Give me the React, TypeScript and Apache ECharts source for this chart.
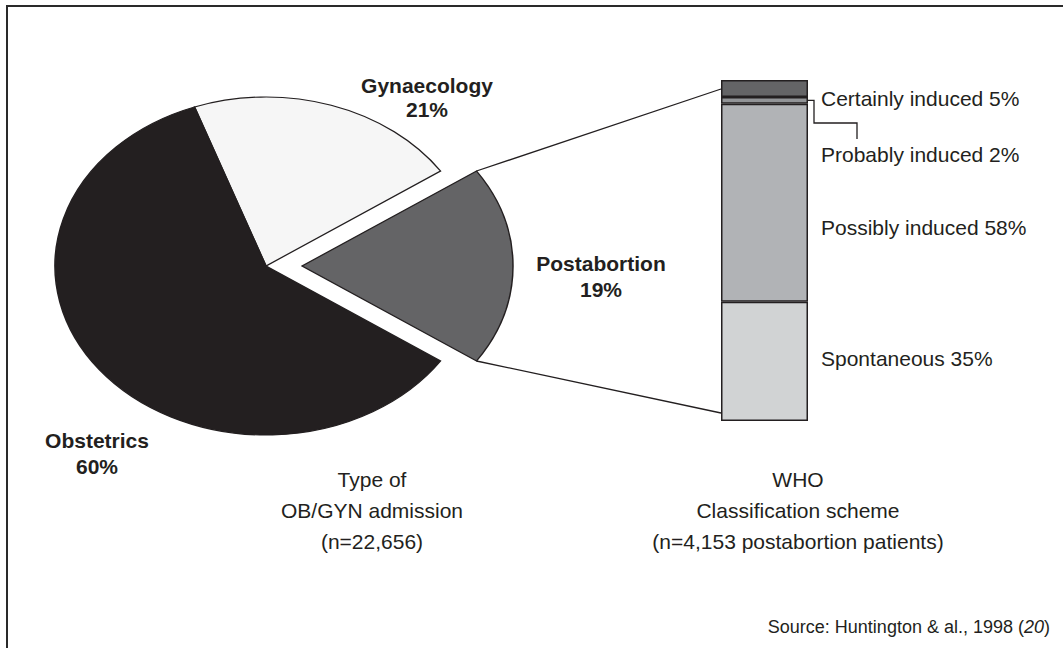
import React, { useEffect, useRef } from "react";
import * as echarts from "echarts";

// ---- data ----
const admissionTypes = ["Gynaecology", "Obstetrics", "Postabortion"];
const admissionShares = [21, 60, 19];
const admissionColors = ["#f6f6f6", "#231f20", "#646466"];

const whoClasses = ["Certainly induced", "Probably induced", "Possibly induced", "Spontaneous"];
const whoShares = [5, 2, 58, 35];
const whoColors = ["#646466", "#929497", "#b1b3b6", "#d1d3d4"];

const FONT = "'Liberation Sans', Arial, Helvetica, sans-serif";
const INK = "#231f20";

// layout
const PIE_CX = 266;
const PIE_CY = 266;
const PIE_RX = 211;
const PIE_RY = 169;
const EXPLODE = 36;
const BAR_LEFT = 721;
const BAR_TOP = 80;
const BAR_W = 87;
const BAR_H = 341;

export default function App() {
  const ref = useRef<HTMLDivElement>(null);

  useEffect(() => {
    document.body.style.margin = "0";
    const chart = echarts.init(ref.current!, null, { renderer: "svg" });

    const total = admissionShares.reduce((a, b) => a + b, 0);
    const postIdx = admissionTypes.indexOf("Postabortion");
    // postabortion slice is centred on the horizontal axis (right side)
    const startDeg = -(admissionShares[postIdx] / total) * 180;
    const toRad = (d: number) => (d * Math.PI) / 180;

    const slices: { s: number; e: number }[] = [];
    let cur = startDeg;
    admissionShares.forEach((v) => {
      const span = (v / total) * 360;
      slices.push({ s: cur - span, e: cur });
      cur -= span;
    });

    const halfPost = toRad((admissionShares[postIdx] / total) * 180);
    const edgeX = PIE_CX + EXPLODE + PIE_RX * Math.cos(halfPost);
    const edgeDy = PIE_RY * Math.sin(halfPost);

    const whoTotal = whoShares.reduce((a, b) => a + b, 0);
    const probMid =
      BAR_TOP + (BAR_H * (whoShares[0] + whoShares[1] / 2)) / whoTotal;

    const txt = (
      text: string,
      x: number,
      y: number,
      opts: any = {}
    ) => ({
      type: "text",
      x,
      y,
      style: {
        text,
        fill: INK,
        font: `${opts.bold ? "bold " : ""}${opts.size || 21}px ${FONT}`,
        textAlign: opts.align || "center",
        textVerticalAlign: "middle",
      },
    });

    const stackOrder = [3, 2, 1, 0];

    chart.setOption({
      animation: false,
      grid: { left: BAR_LEFT, top: BAR_TOP, width: BAR_W, height: BAR_H },
      xAxis: { type: "category", data: ["WHO"], show: false },
      yAxis: { type: "value", min: 0, max: whoTotal, show: false },
      series: [
        {
          type: "custom",
          coordinateSystem: "none",
          silent: true,
          data: admissionShares,
          renderItem: (params: any) => {
            const i = params.dataIndex;
            return {
              type: "sector",
              x: PIE_CX + (i === postIdx ? EXPLODE : 0),
              y: PIE_CY,
              scaleY: PIE_RY / PIE_RX,
              shape: {
                cx: 0,
                cy: 0,
                r0: 0,
                r: PIE_RX,
                startAngle: toRad(slices[i].s),
                endAngle: toRad(slices[i].e),
                clockwise: true,
              },
              style: {
                fill: admissionColors[i],
                stroke: INK,
                lineWidth: 1.5,
                strokeNoScale: true,
              },
            };
          },
        },
        ...stackOrder.map((k) => ({
          type: "bar",
          name: whoClasses[k],
          stack: "who",
          barWidth: "100%",
          silent: true,
          data: [whoShares[k]],
          itemStyle: {
            color: whoColors[k],
            borderColor: INK,
            borderWidth: 1.5,
          },
        })),
      ],
      graphic: [
        {
          type: "rect",
          shape: { x: 7, y: 6, width: 1080, height: 700 },
          style: { fill: "none", stroke: "#2a2a2a", lineWidth: 2 },
          silent: true,
        },
        {
          type: "line",
          shape: { x1: edgeX, y1: PIE_CY - edgeDy, x2: BAR_LEFT, y2: BAR_TOP + 9 },
          style: { stroke: INK, lineWidth: 1.3 },
        },
        {
          type: "line",
          shape: { x1: edgeX, y1: PIE_CY + edgeDy, x2: BAR_LEFT, y2: BAR_TOP + BAR_H - 8 },
          style: { stroke: INK, lineWidth: 1.3 },
        },
        {
          type: "polyline",
          shape: {
            points: [
              [BAR_LEFT + BAR_W, probMid],
              [814, probMid],
              [814, 123],
              [857, 123],
              [857, 139],
            ],
          },
          style: { stroke: INK, lineWidth: 1.3, fill: "none" },
        },
        txt(admissionTypes[0], 427, 85, { bold: true }),
        txt(`${admissionShares[0]}%`, 427, 109, { bold: true }),
        txt(admissionTypes[2], 601, 263, { bold: true }),
        txt(`${admissionShares[2]}%`, 601, 289, { bold: true }),
        txt(admissionTypes[1], 97, 440, { bold: true }),
        txt(`${admissionShares[1]}%`, 97, 466, { bold: true }),
        txt(`${whoClasses[0]} ${whoShares[0]}%`, 821, 98, { align: "left" }),
        txt(`${whoClasses[1]} ${whoShares[1]}%`, 821, 154, { align: "left" }),
        txt(`${whoClasses[2]} ${whoShares[2]}%`, 821, 227, { align: "left" }),
        txt(`${whoClasses[3]} ${whoShares[3]}%`, 821, 358, { align: "left" }),
        txt("Type of", 372, 479),
        txt("OB/GYN admission", 372, 510),
        txt("(n=22,656)", 372, 541),
        txt("WHO", 798, 479),
        txt("Classification scheme", 798, 510),
        txt("(n=4,153 postabortion patients)", 798, 541),
        {
          type: "text",
          x: 1050,
          y: 627,
          style: {
            text: "Source: Huntington & al., 1998 ({it|20})",
            fill: INK,
            font: `18px ${FONT}`,
            textAlign: "right",
            textVerticalAlign: "middle",
            rich: {
              it: { fontStyle: "italic", fontSize: 18, fontFamily: FONT, fill: INK },
            },
          },
        },
      ],
    });

    return () => chart.dispose();
  }, []);

  return <div ref={ref} style={{ width: 1063, height: 648, background: "#fff" }} />;
}
